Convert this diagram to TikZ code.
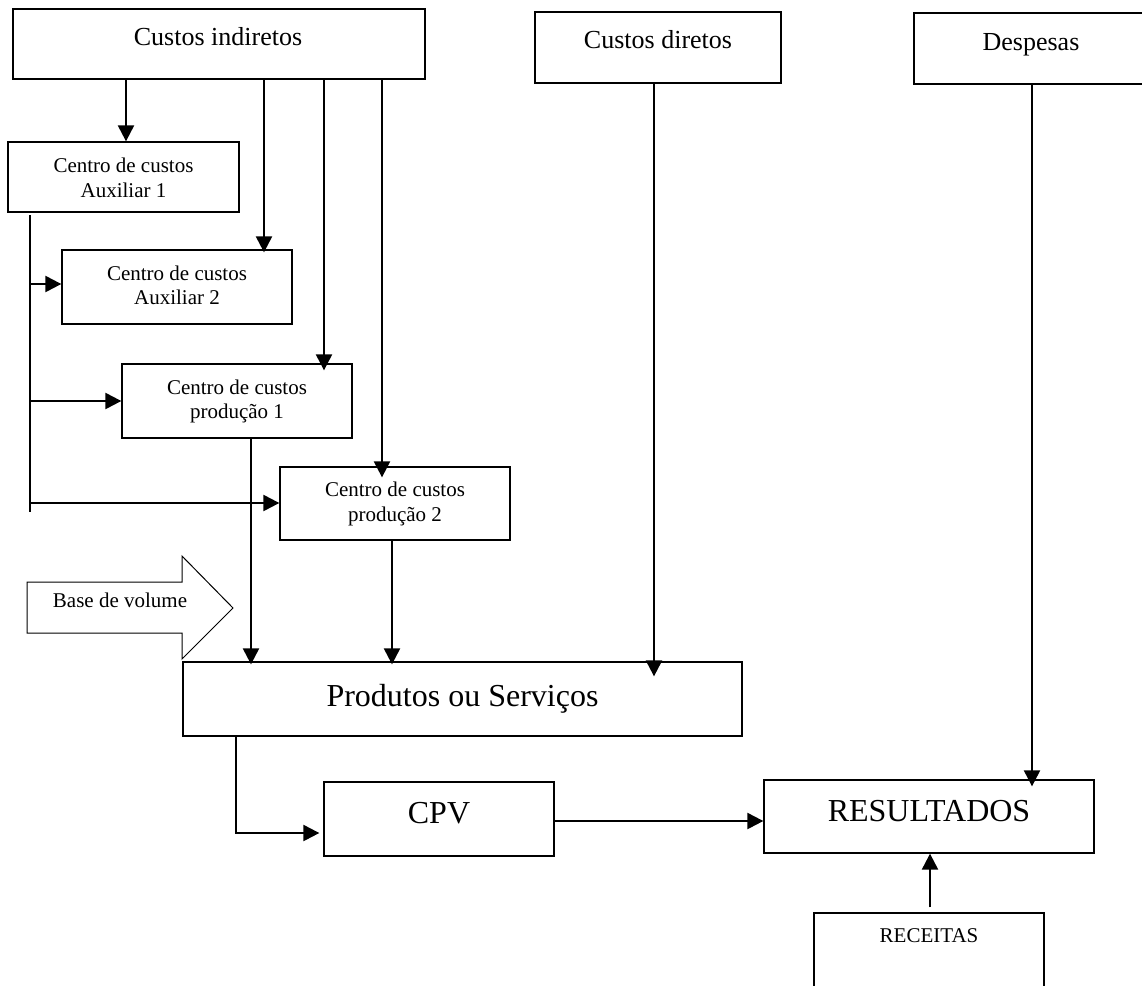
\documentclass[tikz,border=0pt]{standalone}
\usepackage{fontspec}
\setmainfont{Liberation Serif}
\usetikzlibrary{arrows.meta,calc}
\tikzset{
  box/.style={draw, line width=1.3pt, rectangle, inner sep=0pt},
  conn/.style={line width=2.2pt, -{Triangle[length=16pt,width=16pt]}},
  plain/.style={line width=2.2pt},
  tl/.style={anchor=base, inner sep=0pt, font=\fontsize{26}{30}\selectfont},
  tm/.style={anchor=base, inner sep=0pt, font=\fontsize{21}{25}\selectfont},
  tx/.style={anchor=base, inner sep=0pt, font=\fontsize{32}{38}\selectfont},
}
\begin{document}
\begin{tikzpicture}[x=1pt,y=-1pt]
\useasboundingbox (0,0) rectangle (1142,985);
\clip (0,0) rectangle (1142,985);
\fill[white] (0,0) rectangle (1142,985);

% boxes
\node[box, minimum width=412pt, minimum height=70pt] (ci) at (219,44) {};
\node[tl] (cit) at (218,45) {Custos indiretos};
\node[box, minimum width=246pt, minimum height=71pt] (cd) at (658,47.5) {};
\node[tl] (cdt) at (658,48) {Custos diretos};
\node[box, minimum width=234pt, minimum height=71pt] (dp) at (1031,48.5) {};
\node[tl] (dpt) at (1031,50) {Despesas};

\node[box, minimum width=231pt, minimum height=70pt] (a1) at (123.5,177) {};
\node[tm] (a1t) at (123.5,172) {Centro de custos};
\node[tm] (a1u) at (123.5,197) {Auxiliar 1};
\node[box, minimum width=230pt, minimum height=74pt] (a2) at (177,287) {};
\node[tm] (a2t) at (177,280) {Centro de custos};
\node[tm] (a2u) at (177,304) {Auxiliar 2};
\node[box, minimum width=230pt, minimum height=74pt] (p1) at (237,401) {};
\node[tm] (p1t) at (237,394) {Centro de custos};
\node[tm] (p1u) at (237,418) {produção 1};
\node[box, minimum width=230pt, minimum height=73pt] (p2) at (395,503.5) {};
\node[tm] (p2t) at (395,496) {Centro de custos};
\node[tm] (p2u) at (395,521) {produção 2};

\node[box, minimum width=559pt, minimum height=74pt] (ps) at (462.5,699) {};
\node[tx] (pst) at (462.5,706) {Produtos ou Serviços};
\node[box, minimum width=230pt, minimum height=74pt] (cpv) at (439,819) {};
\node[tx] (cpvt) at (439,823) {CPV};
\node[box, minimum width=330pt, minimum height=73pt] (res) at (929,816.5) {};
\node[tx] (rest) at (929,821) {RESULTADOS};
\node[box, minimum width=230pt, minimum height=100pt] (rec) at (929,963) {};
\node[tm] (rect) at (929,942) {RECEITAS};

% block arrow "Base de volume"
\draw[line width=1pt] (27,582) -- (182,582) -- (182,556) -- (233,608) -- (182,659) -- (182,633) -- (27,633) -- cycle;
\node[tm] (bvt) at (120,607) {Base de volume};

% coordinates
\coordinate (x1) at (126,0);
\coordinate (x2) at (264,0);
\coordinate (x3) at (324,0);
\coordinate (x4) at (382,0);
\coordinate (x5) at (251,0);
\coordinate (x6) at (392,0);
\coordinate (x7) at (654,0);
\coordinate (x9) at (236,833);
\coordinate (y10) at (0,821);
\coordinate (x11) at (1032,0);
\coordinate (x12) at (930,0);
\coordinate (b0) at (30,215);
\coordinate (b1) at (30,512);
\coordinate (bA) at (30,284);
\coordinate (bB) at (30,401);
\coordinate (bC) at (30,503);

% connectors from Custos indiretos
\draw[conn] (ci.south -| x1) -- (a1.north -| x1);
\draw[conn] (ci.south -| x2) -- ($(a2.north -| x2)+(0,3)$);
\draw[conn] (ci.south -| x3) -- ($(p1.north -| x3)+(0,7)$);
\draw[conn] (ci.south -| x4) -- ($(p2.north -| x4)+(0,11)$);

% bus from Auxiliar 1
\draw[plain] (b0) -- (b1);
\draw[conn] (bA) -- (a2.west |- bA);
\draw[conn] (bB) -- (p1.west |- bB);
\draw[conn] (bC) -- (p2.west |- bC);

% into Produtos ou Servicos
\draw[conn] (p1.south -| x5) -- ($(ps.north -| x5)+(0,3)$);
\draw[conn] (p2.south -| x6) -- ($(ps.north -| x6)+(0,3)$);
\draw[conn] (cd.south -| x7) -- ($(ps.north -| x7)+(0,15)$);

% to CPV and RESULTADOS
\draw[conn] (ps.south -| x9) |- ($(cpv.west |- x9)+(-4,0)$);
\draw[conn] (cpv.east |- y10) -- (res.west |- y10);
\draw[conn] (dp.south -| x11) -- ($(res.north -| x11)+(0,7)$);
\draw[conn] ($(rec.north -| x12)+(0,-5)$) -- (res.south -| x12);
\end{tikzpicture}
\end{document}
